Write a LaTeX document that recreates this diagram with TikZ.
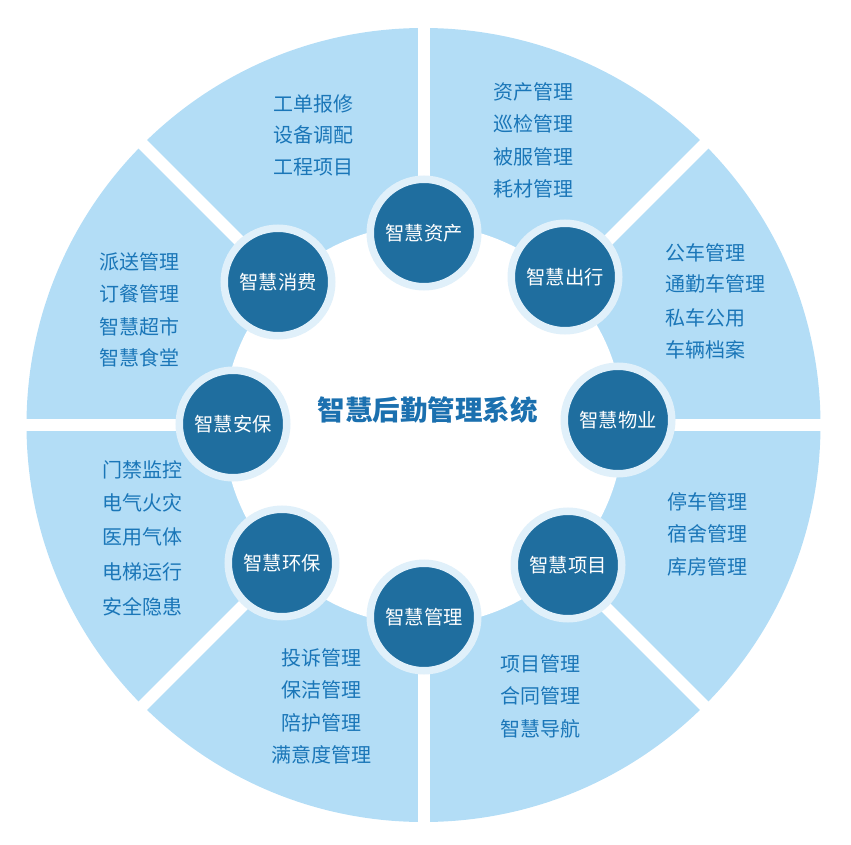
\documentclass[tikz,border=0pt]{standalone}
\usepackage{fontspec}
\setmainfont{Noto Sans CJK SC}
\usetikzlibrary{calc}
\definecolor{sectorblue}{RGB}{179,221,246}
\definecolor{hubblue}{RGB}{31,110,159}
\definecolor{ringblue}{RGB}{224,240,250}
\definecolor{textblue}{RGB}{26,118,184}
\definecolor{titleblue}{RGB}{27,112,175}
\tikzset{
	gapline/.style={line width=12pt, color=white},
	hub/.style={circle, fill=hubblue, draw=ringblue, line width=7.5pt, minimum size=107.5pt, inner sep=0pt, text=white, font=\fontsize{19.3}{19}\selectfont},
	item/.style={anchor=west, inner sep=0pt, text=textblue, font=\fontsize{20}{20}\selectfont},
	itemc/.style={item, anchor=center}
}

\begin{document}
\begin{tikzpicture}[x=1pt, y=-1pt]
			%%%%% START %%%%%
			\useasboundingbox (0, 0) rectangle (851, 845);
			\coordinate (mid) at (423.5, 425);
			
			\fill[sectorblue] (mid) circle (397);
			\foreach \a in {0, 45, 90, 135}
				\draw[gapline] ($(mid)+(\a:398)$) -- ($(mid)+(\a+180:398)$);
			\fill[white] (mid) circle (200);
			
			\node[text=titleblue, font=\fontsize{27.5}{28}\selectfont\bfseries] (title) at (427.5, 410) {智慧后勤管理系统};
			
			\node[hub] (zichan) at (424, 233) {智慧资产};
			\node[hub] (chuxing) at (565, 277) {智慧出行};
			\node[hub] (wuye) at (618, 420) {智慧物业};
			\node[hub] (xiangmu) at (568, 565) {智慧项目};
			\node[hub] (guanli) at (424, 617) {智慧管理};
			\node[hub] (huanbao) at (282, 563) {智慧环保};
			\node[hub] (anbao) at (233, 424) {智慧安保};
			\node[hub] (xiaofei) at (278, 282) {智慧消费};
			
			\foreach \t/\y [count=\i] in {工单报修/104, 设备调配/135, 工程项目/167}
				\node[item] (gd\i) at (273, \y) {\t};
			\foreach \t/\y [count=\i] in {资产管理/92, 巡检管理/124, 被服管理/157, 耗材管理/189}
				\node[item] (zc\i) at (493, \y) {\t};
			\foreach \t/\y [count=\i] in {公车管理/253, 通勤车管理/284, 私车公用/318, 车辆档案/350}
				\node[item] (gc\i) at (665, \y) {\t};
			\foreach \t/\y [count=\i] in {停车管理/502, 宿舍管理/534, 库房管理/567}
				\node[item] (tc\i) at (667, \y) {\t};
			\foreach \t/\y [count=\i] in {项目管理/664, 合同管理/696, 智慧导航/729}
				\node[item] (xm\i) at (500, \y) {\t};
			\foreach \t/\y [count=\i] in {投诉管理/658, 保洁管理/690, 陪护管理/723, 满意度管理/755}
				\node[itemc] (ts\i) at (321, \y) {\t};
			\foreach \t/\y [count=\i] in {门禁监控/470, 电气火灾/503, 医用气体/537, 电梯运行/572, 安全隐患/607}
				\node[item] (mj\i) at (102, \y) {\t};
			\foreach \t/\y [count=\i] in {派送管理/262, 订餐管理/294, 智慧超市/327, 智慧食堂/358}
				\node[item] (ps\i) at (99, \y) {\t};
			%%%%% END %%%%%
\end{tikzpicture}
\end{document}
